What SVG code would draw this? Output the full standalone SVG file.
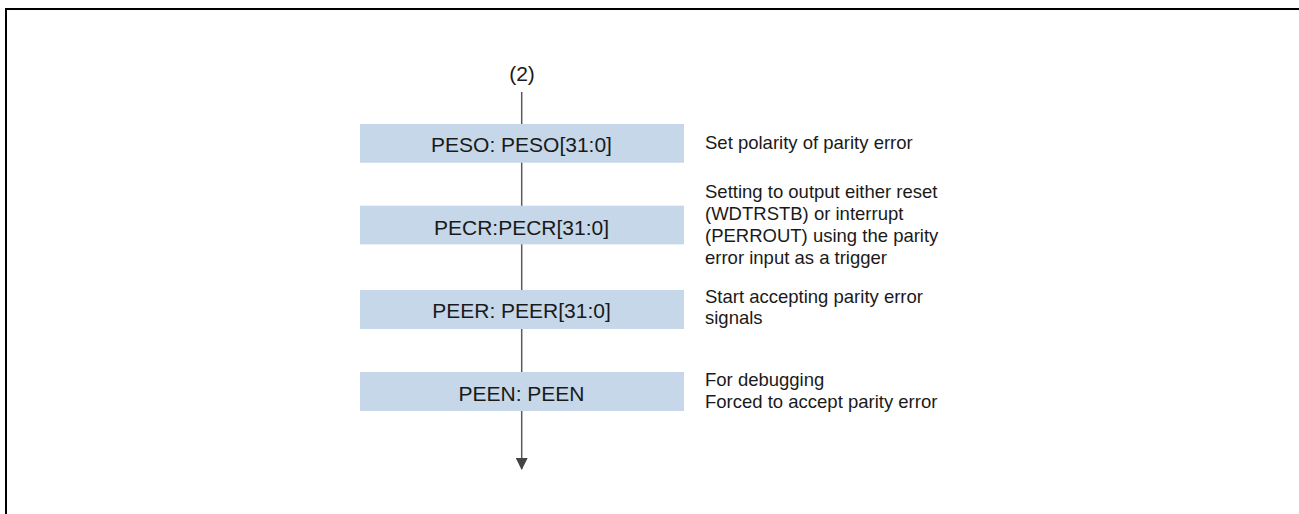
<svg xmlns="http://www.w3.org/2000/svg" width="1299" height="514" viewBox="0 0 1299 514">
<defs>
<style>
.box{fill:#c5d7e8;}
.bt{font-family:"Liberation Sans",Arial,sans-serif;font-size:21px;fill:#1a1a1a;text-anchor:middle;}
.dt{font-family:"Liberation Sans",Arial,sans-serif;font-size:18.5px;fill:#1a1a1a;}
.conn{stroke:#5a5a5a;stroke-width:1.5;fill:none;}
</style>
<marker id="arr" viewBox="0 0 12 12" refX="11" refY="6" markerWidth="12" markerHeight="12" markerUnits="userSpaceOnUse" orient="auto">
<path d="M0,0 L12,6 L0,12 Z" fill="#444"/>
</marker>
</defs>
<rect x="0" y="0" width="1299" height="514" fill="#fff"/>
<rect x="6" y="9" width="1400" height="600" fill="none" stroke="#000" stroke-width="2"/>
<g id="connectors">
<line class="conn" x1="521.7" y1="92" x2="521.7" y2="124"/>
<line class="conn" x1="521.7" y1="162" x2="521.7" y2="206"/>
<line class="conn" x1="521.7" y1="244" x2="521.7" y2="290"/>
<line class="conn" x1="521.7" y1="329" x2="521.7" y2="372"/>
<line class="conn" x1="521.7" y1="411" x2="521.7" y2="469" marker-end="url(#arr)"/>
</g>
<g id="start">
<text class="bt" x="522" y="81">(2)</text>
</g>
<g id="peso">
<rect class="box" x="360" y="124" width="324" height="38.7"/>
<text class="bt" x="521.5" y="152.3">PESO: PESO[31:0]</text>
<text class="dt" x="705" y="149.3">Set polarity of parity error</text>
</g>
<g id="pecr">
<rect class="box" x="360" y="205.7" width="324" height="38.7"/>
<text class="bt" x="521.5" y="235">PECR:PECR[31:0]</text>
<text class="dt" x="705" y="198.3">Setting to output either reset</text>
<text class="dt" x="705" y="220">(WDTRSTB) or interrupt</text>
<text class="dt" x="705" y="241.8">(PERROUT) using the parity</text>
<text class="dt" x="705" y="263.6">error input as a trigger</text>
</g>
<g id="peer">
<rect class="box" x="360" y="290" width="324" height="39"/>
<text class="bt" x="521.5" y="318.3">PEER: PEER[31:0]</text>
<text class="dt" x="705" y="302.7">Start accepting parity error</text>
<text class="dt" x="705" y="324.3">signals</text>
</g>
<g id="peen">
<rect class="box" x="360" y="372" width="324" height="39"/>
<text class="bt" x="521.5" y="400.7">PEEN: PEEN</text>
<text class="dt" x="705" y="386">For debugging</text>
<text class="dt" x="705" y="408">Forced to accept parity error</text>
</g>
</svg>
